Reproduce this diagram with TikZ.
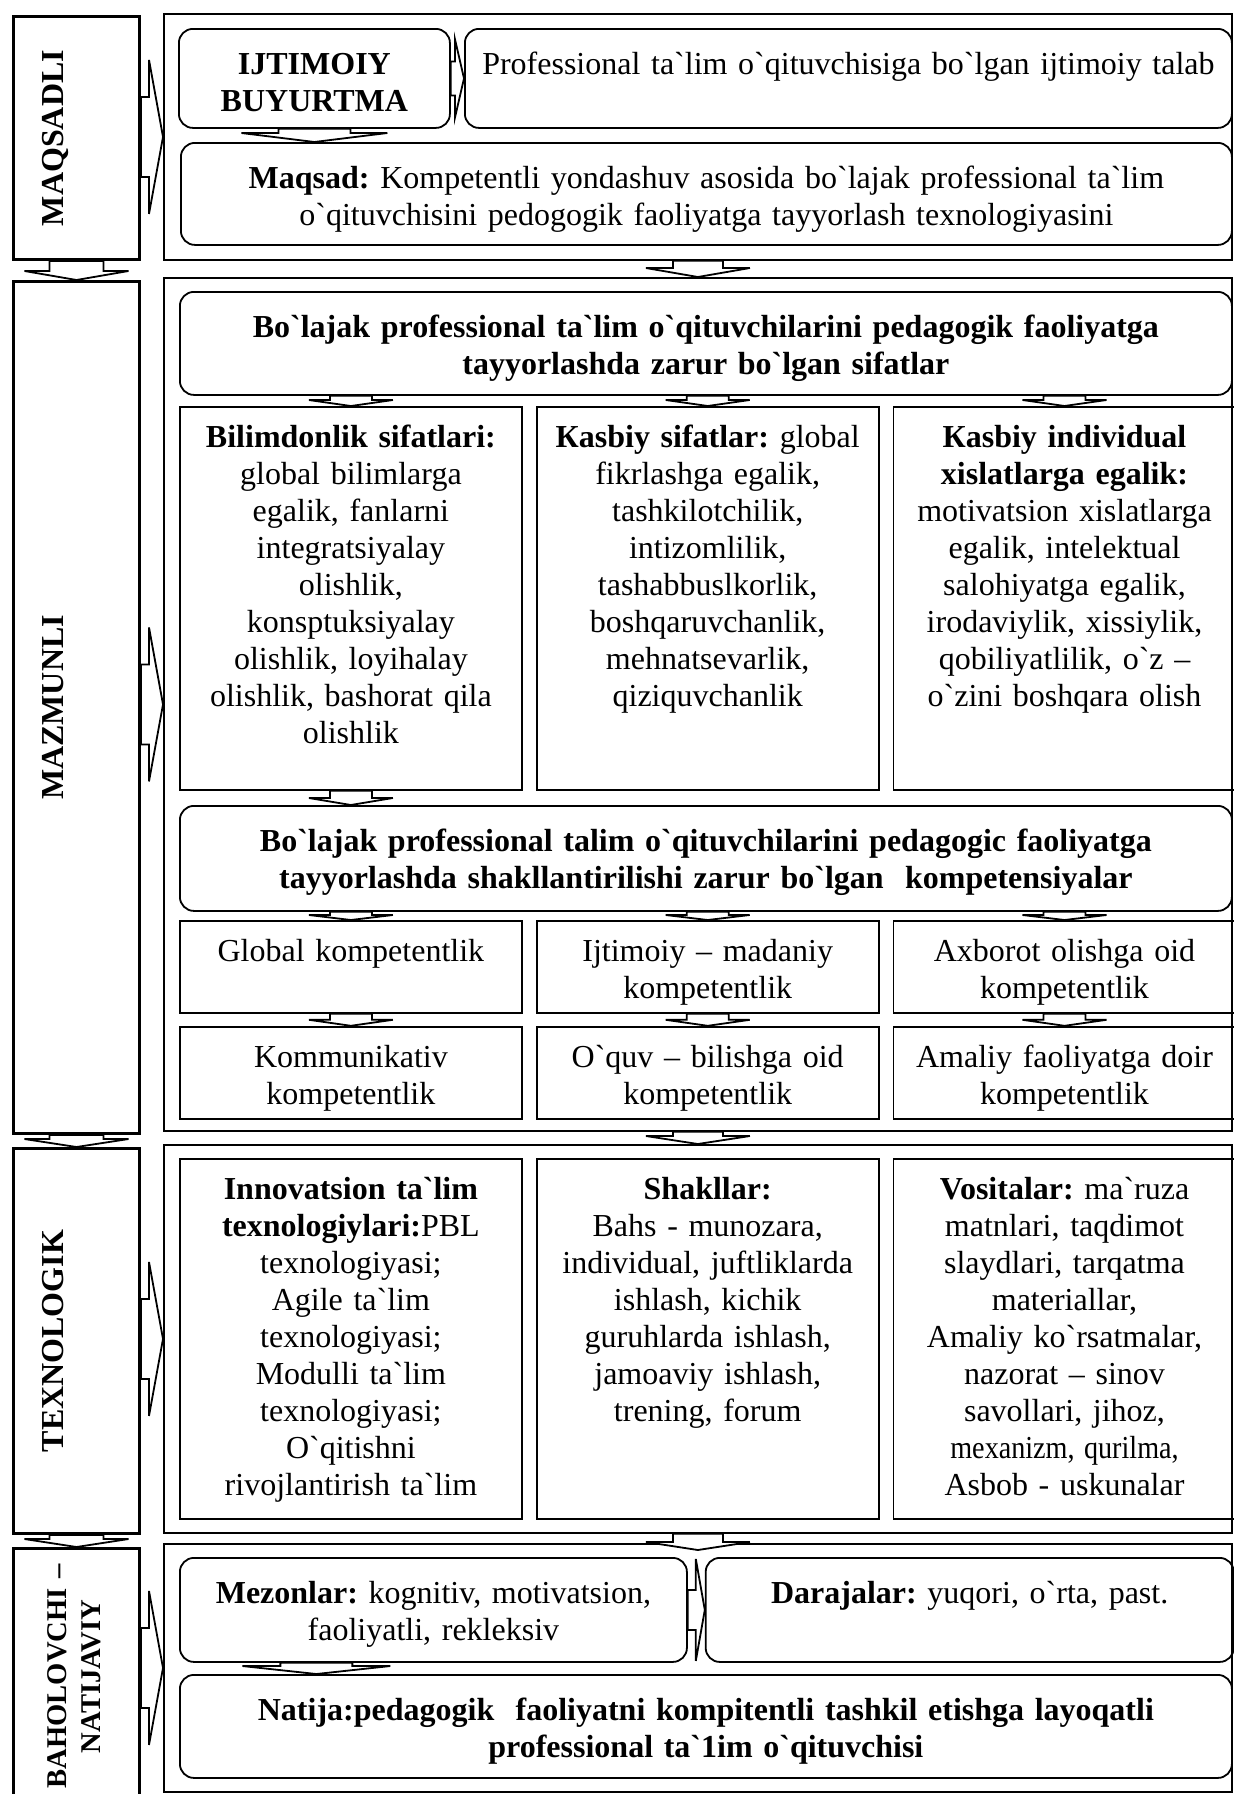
\documentclass[tikz,border=0pt]{standalone}
\usepackage{fontspec}
\usepackage{graphicx}
\newfontfamily\uzfont{Liberation Serif}
\usetikzlibrary{positioning, calc}
\frenchspacing

\tikzset{
  frm/.style={draw, line width=0.9pt, inner sep=0pt, anchor=north west, minimum width=534pt},
  lbl/.style={draw, line width=1.5pt, inner sep=0pt, anchor=north west, minimum width=63pt,
    text width=34pt, align=left, font=\uzfont\bfseries\fontsize{16pt}{18.5pt}\selectfont},
  sbox/.style={draw, line width=0.9pt, inner sep=0pt, align=center, text width=171pt,
    text height=20.5pt, font=\uzfont\fontsize{16pt}{18.5pt}\selectfont},
  rbox/.style={sbox, rounded corners=7pt, text height=23pt},
  blk/.style={draw, fill=white, line width=0.9pt, line join=miter}
}

% top, tip, shaft half width, head half width, head length
\newcommand{\vblock}[5]{%
  \draw[blk] ($#1+(-#3,0)$) -- ($#2+(-#3,-#5)$) -- ($#2+(-#4,-#5)$) -- #2
    -- ($#2+(#4,-#5)$) -- ($#2+(#3,-#5)$) -- ($#1+(#3,0)$) -- cycle;}
% start, tip, shaft half height, head half height, head length
\newcommand{\hblock}[5]{%
  \draw[blk] ($#1+(0,-#3)$) -- ($#2+(-#5,-#3)$) -- ($#2+(-#5,-#4)$) -- #2
    -- ($#2+(-#5,#4)$) -- ($#2+(-#5,#3)$) -- ($#1+(0,#3)$) -- cycle;}

\begin{document}
\begin{tikzpicture}[x=0.5pt, y=-0.5pt]
  \useasboundingbox (0,0) rectangle (1234,1794);

  \node[frm, minimum height=123pt]   (f1) at (163,13) {};
  \node[frm, minimum height=426.5pt] (f2) at (163,277) {};
  \node[frm, minimum height=194pt]   (f3) at (163,1144) {};
  \node[frm, minimum height=124pt]   (f4) at (163,1543) {};

  \node[lbl, minimum height=121.5pt] (l1) at (12,15) {\rotatebox{90}{MAQSADLI}};
  \node[lbl, minimum height=426pt]   (l2) at (12,280) {\rotatebox{90}{MAZMUNLI}};
  \node[lbl, minimum height=192.5pt] (l3) at (12,1147) {\rotatebox{90}{TEXNOLOGIK}};
  \node[lbl, minimum height=128pt, font=\uzfont\bfseries\fontsize{14.3pt}{17pt}\selectfont] (l4) at (12,1547)
    {\rotatebox{90}{\begin{tabular}{@{}c@{}}BAHOLOVCHI –\\NATIJAVIY\end{tabular}}};

  \node[rbox, anchor=north west, text width=135.5pt, text depth=26.5pt] (ij) at (178,28)
    {\textbf{IJTIMOIY}\\\textbf{BUYURTMA}};
  \node[rbox, anchor=north west, text width=383.5pt, text depth=26.5pt] (prof) at (464,28)
    {Professional ta`lim o`qituvchisiga bo`lgan ijtimoiy talab};
  \node[rbox, anchor=north west, text width=525.5pt, text depth=28pt] (maq) at (180,142)
    {\textbf{Maqsad:} Kompetentli yondashuv asosida bo`lajak professional ta`lim\\o`qituvchisini pedogogik faoliyatga tayyorlash texnologiyasini};

  \node[rbox, anchor=north west, text width=526pt, text depth=28.5pt] (h2) at (179,291)
    {\textbf{Bo`lajak professional ta`lim o`qituvchilarini pedagogik faoliyatga}\\\textbf{tayyorlashda zarur bo`lgan sifatlar}};
  \node[sbox, anchor=north west, text depth=171pt] (c1) at (179,406)
    {\textbf{Bilimdonlik sifatlari:}\\global bilimlarga\\egalik, fanlarni\\integratsiyalay\\olishlik,\\konsptuksiyalay\\olishlik, loyihalay\\olishlik, bashorat qila\\olishlik};
  \node[sbox, text depth=171pt, right=6.5pt of c1] (c2)
    {\textbf{Кasbiy sifatlar:} global\\fikrlashga egalik,\\tashkilotchilik,\\intizomlilik,\\tashabbuslkorlik,\\boshqaruvchanlik,\\mehnatsevarlik,\\qiziquvchanlik};
  \node[sbox, text depth=171pt, right=6.5pt of c2] (c3)
    {\textbf{Кasbiy individual}\\\textbf{xislatlarga egalik:}\\motivatsion xislatlarga\\egalik, intelektual\\salohiyatga egalik,\\irodaviylik, xissiylik,\\qobiliyatlilik, o`z –\\o`zini boshqara olish};

  \node[rbox, anchor=north west, text width=526pt, text depth=29.5pt] (h3) at (179,805)
    {\textbf{Bo`lajak professional talim o`qituvchilarini pedagogic faoliyatga}\\\textbf{tayyorlashda shakllantirilishi zarur bo`lgan\ \ kompetensiyalar}};
  \node[sbox, anchor=north west, text depth=25.5pt] (r11) at (179,920) {Global kompetentlik};
  \node[sbox, text depth=25.5pt, right=6.5pt of r11] (r12) {Ijtimoiy – madaniy\\kompetentlik};
  \node[sbox, text depth=25.5pt, right=6.5pt of r12] (r13) {Axborot olishga oid\\kompetentlik};
  \node[sbox, text depth=25.5pt, below=6pt of r11] (r21) {Kommunikativ\\kompetentlik};
  \node[sbox, text depth=25.5pt, below=6pt of r12] (r22) {O`quv – bilishga oid\\kompetentlik};
  \node[sbox, text depth=25.5pt, below=6pt of r13] (r23) {Amaliy faoliyatga doir\\kompetentlik};

  \node[sbox, anchor=north west, text depth=159.5pt] (t1) at (179,1158)
    {\textbf{Innovatsion ta`lim}\\\textbf{texnologiylari:}PBL\\texnologiyasi;\\Agile ta`lim\\texnologiyasi;\\Modulli ta`lim\\texnologiyasi;\\O`qitishni\\rivojlantirish ta`lim};
  \node[sbox, text depth=159.5pt, right=6.5pt of t1] (t2)
    {\textbf{Shakllar:}\\Bahs - munozara,\\individual, juftliklarda\\ishlash, kichik\\guruhlarda ishlash,\\jamoaviy ishlash,\\trening, forum};
  \node[sbox, text depth=159.5pt, right=6.5pt of t2] (t3)
    {\textbf{Vositalar:} ma`ruza\\matnlari, taqdimot\\slaydlari, tarqatma\\materiallar,\\Amaliy ko`rsatmalar,\\nazorat – sinov\\savollari, jihoz,\\\scalebox{0.88}[1]{mexanizm, qurilma,}\\Asbob - uskunalar};

  \node[rbox, anchor=north west, text width=253.5pt, text depth=29pt] (mez) at (179,1557)
    {\textbf{Mezonlar:} kognitiv, motivatsion,\\faoliyatli, rekleksiv};
  \node[rbox, text width=264pt, text depth=29pt, right=8.5pt of mez] (dar)
    {\textbf{Darajalar:} yuqori, o`rta, past.};
  \node[rbox, anchor=north west, text width=526pt, text depth=28.5pt] (nat) at (179,1674)
    {\textbf{Natija:pedagogik\ \ faoliyatni kompitentli tashkil etishga layoqatli}\\\textbf{professional ta`1im o`qituvchisi}};

  \coordinate (f4in) at ($(f4.north)+(0,7)$);
  \coordinate (mezout) at ($(mez.south west)!0.27!(mez.south east)$);

  \vblock{(f1.south)}{(f2.north)}{25}{52}{9}
  \vblock{(f2.south)}{(f3.north)}{25}{52}{8}
  \vblock{(f3.south)}{(f4in)}{25}{52}{8}
  \vblock{(l1.south)}{(l2.north)}{27}{52}{9}
  \vblock{(l2.south)}{(l3.north)}{27}{52}{8}
  \vblock{(l3.south)}{(l4.north)}{27}{52}{8}
  \foreach \sec in {1,2,3,4}
    \hblock{(l\sec.east |- f\sec.west)}{(f\sec.west)}{40}{77}{14};

  \hblock{(ij.east)}{(prof.west |- ij.east)}{17}{39}{9}
  \vblock{(ij.south)}{(ij.south |- maq.north)}{36}{73}{9}
  \foreach \col in {c1,c2,c3}
    \vblock{(\col.north |- h2.south)}{(\col.north)}{21}{42}{6};
  \vblock{(c1.south)}{(c1.south |- h3.north)}{21}{42}{7}
  \foreach \col in {r11,r12,r13}
    \vblock{(\col.north |- h3.south)}{(\col.north)}{21}{42}{5};
  \foreach \up/\dn in {r11/r21,r12/r22,r13/r23}
    \vblock{(\up.south)}{(\dn.north)}{21}{42}{6};
  \hblock{(mez.east)}{(dar.west |- mez.east)}{20}{51}{9}
  \vblock{(mezout)}{(mezout |- nat.north)}{36}{74}{8}
\end{tikzpicture}
\end{document}
